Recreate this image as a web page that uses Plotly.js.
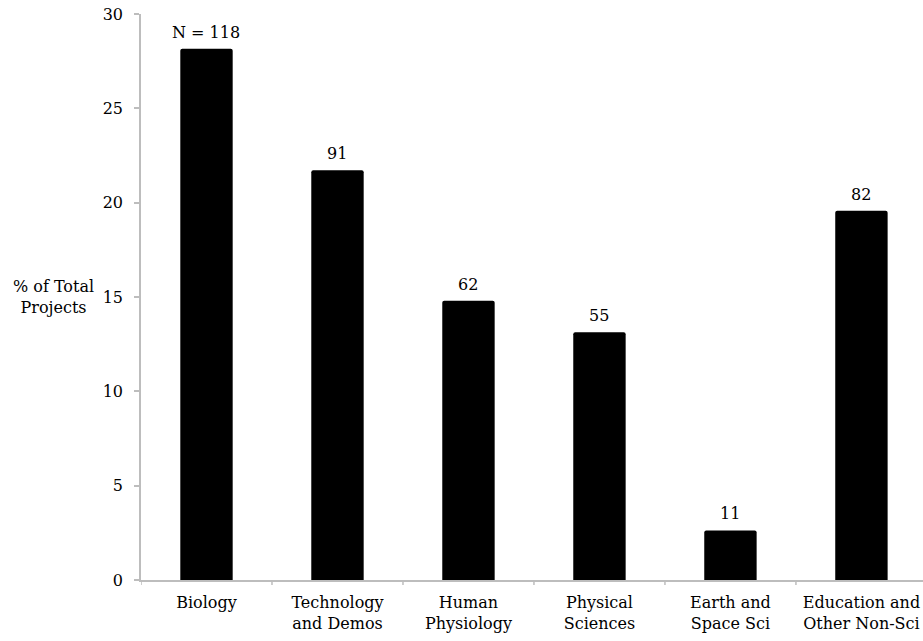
<!DOCTYPE html>
<html>
<head>
<meta charset="utf-8">
<script src="https://cdn.plot.ly/plotly-3.0.1.min.js"></script>
<style>
html,body{margin:0;padding:0;background:#fff;}
#chart{width:923px;height:641px;}
</style>
</head>
<body>
<div id="chart"></div>
<script>
var categories = ["Biology", "Technology<br>and Demos", "Human<br>Physiology", "Physical<br>Sciences", "Earth and<br>Space Sci", "Education and<br>Other Non-Sci"];
var percentValues = [28.16, 21.72, 14.80, 13.13, 2.63, 19.57];
var countLabels = ["N = 118", "91", "62", "55", "11", "82"];
var yTickValues = [0, 5, 10, 15, 20, 25, 30];

function mkFont(){ return {family: "DejaVu Serif", size: 16, color: "#000"}; }
var xIdx = categories.map(function(c, i){ return i; });

var trace = {
  type: "bar",
  x: xIdx,
  y: percentValues,
  width: 0.4,
  marker: {color: "#000", cornerradius: 2},
  hoverinfo: "skip"
};

var annotations = countLabels.map(function(t, i){
  return {x: i, y: percentValues[i], xref: "x", yref: "y", text: t, showarrow: false,
    yanchor: "bottom", yshift: 5, font: mkFont()};
});
annotations.push({
  xref: "paper", yref: "y", x: 0, xanchor: "right", xshift: -45, y: 15, yanchor: "middle",
  text: "% of Total<br>Projects", showarrow: false, font: mkFont(), align: "center"
});

var boundaryTicks = [0,1,2,3,4,5].map(function(i){
  return {type: "line", xref: "x", yref: "paper", x0: i - 0.5, x1: i - 0.5, y0: 0, y1: -0.009,
    line: {color: "#bdbdbd", width: 1.5}};
});

var layout = {
  width: 923, height: 641,
  margin: {l: 141, r: 0, t: 14, b: 61},
  paper_bgcolor: "#fff", plot_bgcolor: "#fff",
  font: mkFont(),
  showlegend: false,
  xaxis: {
    range: [-0.5, 5.47],
    tickmode: "array",
    tickvals: xIdx,
    ticktext: categories,
    showgrid: false, zeroline: false,
    showline: true, linecolor: "#bdbdbd", linewidth: 1.5,
    ticks: "", tickfont: mkFont(), ticklabelstandoff: 7,
    fixedrange: true
  },
  yaxis: {
    range: [0, 30],
    tickmode: "array",
    tickvals: yTickValues,
    showgrid: false, zeroline: false,
    showline: true, linecolor: "#bdbdbd", linewidth: 1.5,
    ticks: "outside", ticklen: 5, tickcolor: "#bdbdbd", tickwidth: 1.5,
    ticklabelstandoff: 8,
    tickfont: mkFont(),
    fixedrange: true
  },
  shapes: boundaryTicks,
  annotations: annotations
};

Plotly.newPlot("chart", [trace], layout, {displayModeBar: false});
</script>
</body>
</html>
